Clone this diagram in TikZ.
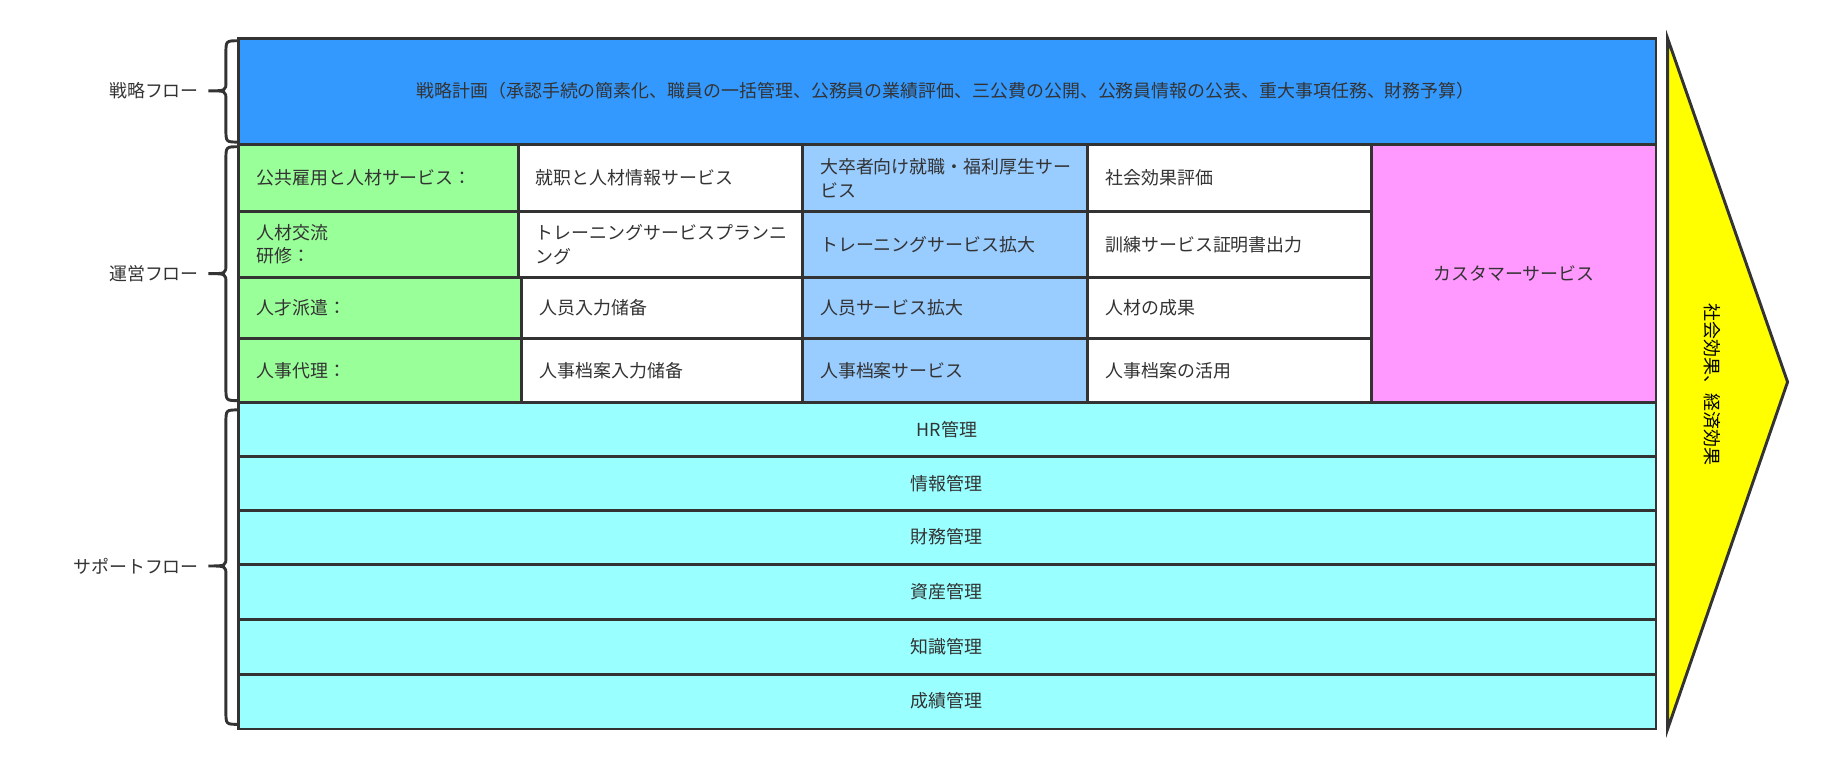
\documentclass[tikz,border=0pt]{standalone}
\usepackage{fontspec}
\newfontfamily\jpfont{Noto Sans CJK JP}
\definecolor{edge}{HTML}{333333}
\definecolor{plan}{HTML}{3399FF}
\definecolor{mint}{HTML}{99FF99}
\definecolor{sky}{HTML}{99CCFF}
\definecolor{pink}{HTML}{FF99FF}
\definecolor{aqua}{HTML}{99FFFF}
\definecolor{gold}{HTML}{FFFF00}
\begin{document}
\begin{tikzpicture}[x=0.5pt,y=-0.5pt,line width=1.25pt,draw=edge,
	txt/.style={font=\jpfont\fontsize{7.7}{10}\selectfont,text=edge,inner sep=0pt,align=left},
	celltxt/.style={txt,anchor=west}]
		\useasboundingbox (0,0) rectangle (1568,658);
		\filldraw[fill=plan] (205,33) rectangle (1422,124);
		\node[txt] (plan) at (812,78) {戦略計画（承認手続の簡素化、職員の一括管理、公務員の業績評価、三公費の公開、公務員情報の公表、重大事項任務、財務予算）};
		\filldraw[fill=mint] (205,124) rectangle (445,182);
		\filldraw[fill=mint] (205,182) rectangle (445,238);
		\filldraw[fill=mint] (205,238) rectangle (448,291);
		\filldraw[fill=mint] (205,291) rectangle (448,346);
		\filldraw[fill=white] (445,124) rectangle (689,182);
		\filldraw[fill=white] (445,182) rectangle (689,238);
		\filldraw[fill=white] (448,238) rectangle (689,291);
		\filldraw[fill=white] (448,291) rectangle (689,346);
		\filldraw[fill=sky] (689,124) rectangle (934,182);
		\filldraw[fill=sky] (689,182) rectangle (934,238);
		\filldraw[fill=sky] (689,238) rectangle (934,291);
		\filldraw[fill=sky] (689,291) rectangle (934,346);
		\filldraw[fill=white] (934,124) rectangle (1178,182);
		\filldraw[fill=white] (934,182) rectangle (1178,238);
		\filldraw[fill=white] (934,238) rectangle (1178,291);
		\filldraw[fill=white] (934,291) rectangle (1178,346);
		\filldraw[fill=pink] (1178,124) rectangle (1422,346);
		\node[celltxt] (a1) at (219,153) {公共雇用と人材サービス：};
		\node[celltxt] (a2) at (219,210) {人材交流\\研修：};
		\node[celltxt] (a3) at (219,264) {人才派遣：};
		\node[celltxt] (a4) at (219,318) {人事代理：};
		\node[celltxt] (b1) at (459,153) {就职と人材情報サービス};
		\node[celltxt] (b2) at (459,210) {トレーニングサービスプランニ\\ング};
		\node[celltxt] (b3) at (462,264) {人员入力储备};
		\node[celltxt] (b4) at (462,318) {人事档案入力储备};
		\node[celltxt] (c1) at (703,153) {大卒者向け就職・福利厚生サー\\ビス};
		\node[celltxt] (c2) at (703,210) {トレーニングサービス拡大};
		\node[celltxt] (c3) at (703,264) {人员サービス拡大};
		\node[celltxt] (c4) at (703,318) {人事档案サービス};
		\node[celltxt] (d1) at (948,153) {社会効果評価};
		\node[celltxt] (d2) at (948,210) {訓練サービス証明書出力};
		\node[celltxt] (d3) at (948,264) {人材の成果};
		\node[celltxt] (d4) at (948,318) {人事档案の活用};
		\node[txt] (cust) at (1300,235) {カスタマーサービス};
		\filldraw[fill=aqua] (205,346) rectangle (1422,392);
		\filldraw[fill=aqua] (205,392) rectangle (1422,438);
		\filldraw[fill=aqua] (205,438) rectangle (1422,485);
		\filldraw[fill=aqua] (205,485) rectangle (1422,532);
		\filldraw[fill=aqua] (205,532) rectangle (1422,579);
		\filldraw[fill=aqua] (205,579) rectangle (1422,626);
		\node[txt] (hr) at (813,369) {HR管理};
		\node[txt] (info) at (813,415) {情報管理};
		\node[txt] (fin) at (813,461) {財務管理};
		\node[txt] (asset) at (813,508) {資産管理};
		\node[txt] (know) at (813,555) {知識管理};
		\node[txt] (perf) at (813,602) {成績管理};
		\filldraw[fill=gold] (1432,33)--(1535,328)--(1432,626)--cycle;
		\node[txt,text=black,rotate=-90] (effect) at (1470,330) {社会効果、経済効果};
		\draw (205,35) .. controls (194,35) .. (194,46) -- (194,70) .. controls (194,78) .. (179,78) .. controls (194,78) .. (194,86) -- (194,111) .. controls (194,122) .. (205,122);
		\draw (205,126) .. controls (194,126) .. (194,137) -- (194,227) .. controls (194,235) .. (179,235) .. controls (194,235) .. (194,243) -- (194,333) .. controls (194,344) .. (205,344);
		\draw (205,352) .. controls (194,352) .. (194,363) -- (194,478) .. controls (194,486) .. (179,486) .. controls (194,486) .. (194,494) -- (194,611) .. controls (194,622) .. (205,622);
		\node[txt,anchor=east] (strat) at (172,78) {戦略フロー};
		\node[txt,anchor=east] (ops) at (172,235) {運営フロー};
		\node[txt,anchor=east] (supp) at (172,486) {サポートフロー};
		\end{tikzpicture}
\end{document}
